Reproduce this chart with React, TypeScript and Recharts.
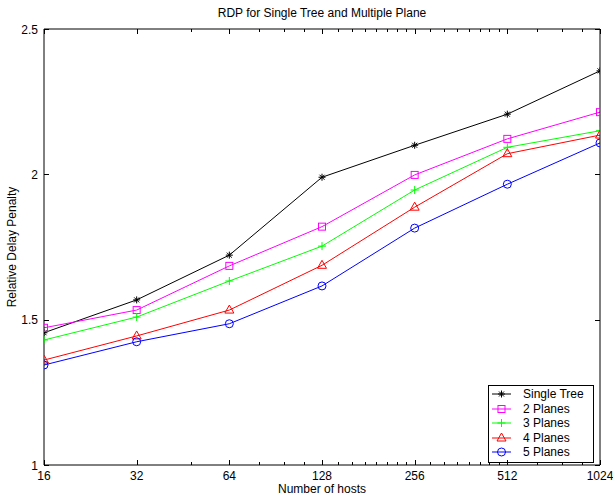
import React from "react";
import { Legend, Line, LineChart, XAxis, YAxis } from "recharts";

// number of hosts (log2 spaced on the x axis)
const hosts = [16, 32, 64, 128, 256, 512, 1024];
const singleTree = [1.455, 1.568, 1.722, 1.99, 2.1, 2.207, 2.356];
const planes2 = [1.472, 1.533, 1.685, 1.82, 1.998, 2.122, 2.214];
const planes3 = [1.43, 1.509, 1.633, 1.753, 1.946, 2.093, 2.15];
const planes4 = [1.361, 1.444, 1.533, 1.687, 1.887, 2.071, 2.135];
const planes5 = [1.344, 1.424, 1.486, 1.616, 1.815, 1.966, 2.108];

const minorTicks = [
  48, 80, 96, 112, 144, 160, 176, 192, 208, 224, 240, 288, 320, 352, 384, 416,
  448, 480, 640, 768, 896,
];
const yTicks = [1, 1.5, 2, 2.5];

const data = hosts.map((h, i) => ({
  hosts: h,
  single: singleTree[i],
  p2: planes2[i],
  p3: planes3[i],
  p4: planes4[i],
  p5: planes5[i],
}));

const FONT = "'Liberation Sans', Arial, Helvetica, sans-serif";

// plot box (matches chart margins + 1px axes)
const BOX = { left: 44, right: 600, top: 29, bottom: 465 };

const series = [
  { key: "single", name: "Single Tree", color: "#000000", marker: "star" },
  { key: "p2", name: "2 Planes", color: "#ff00ff", marker: "square" },
  { key: "p3", name: "3 Planes", color: "#00ff00", marker: "plus" },
  { key: "p4", name: "4 Planes", color: "#ff0000", marker: "triangle" },
  { key: "p5", name: "5 Planes", color: "#0000ff", marker: "circle" },
];

function Marker({ cx, cy, color, shape }) {
  if (cx == null || cy == null) return null;
  const s = { stroke: color, strokeWidth: 1, fill: "none" };
  if (shape === "star") {
    const r = 3.5;
    const d = 2.5;
    return (
      <g {...s}>
        <line x1={cx - r} y1={cy} x2={cx + r} y2={cy} />
        <line x1={cx} y1={cy - r} x2={cx} y2={cy + r} />
        <line x1={cx - d} y1={cy - d} x2={cx + d} y2={cy + d} />
        <line x1={cx - d} y1={cy + d} x2={cx + d} y2={cy - d} />
      </g>
    );
  }
  if (shape === "square") {
    return <rect x={cx - 3.5} y={cy - 3.5} width={7} height={7} {...s} />;
  }
  if (shape === "plus") {
    return (
      <g {...s}>
        <line x1={cx - 4} y1={cy} x2={cx + 4} y2={cy} />
        <line x1={cx} y1={cy - 4} x2={cx} y2={cy + 4} />
      </g>
    );
  }
  if (shape === "triangle") {
    return (
      <polygon
        points={`${cx},${cy - 5} ${cx - 4.5},${cy + 3} ${cx + 4.5},${cy + 3}`}
        {...s}
      />
    );
  }
  return <circle cx={cx} cy={cy} r={4} {...s} />;
}

function XLabel(props) {
  const { x, y, payload } = props;
  const v = payload.value;
  if (!hosts.includes(v)) return <g />;
  return (
    <text x={x} y={y + 15} textAnchor="middle" fontSize={12} fontFamily={FONT} fill="#000" stroke="none">
      {v}
    </text>
  );
}

function YLabel(props) {
  const { x, y, payload } = props;
  return (
    <text x={x - 6} y={y + 4.5} textAnchor="end" fontSize={12} fontFamily={FONT} fill="#000" stroke="none">
      {payload.value}
    </text>
  );
}

function LegendBox() {
  return (
    <div
      style={{
        border: "1px solid #000",
        background: "#fff",
        width: 104,
        height: 75,
        boxSizing: "content-box",
        fontFamily: FONT,
        fontSize: 12,
        paddingTop: 1,
      }}
    >
      {series.map((s) => (
        <div key={s.key} style={{ display: "flex", alignItems: "center", height: 14.5 }}>
          <svg width={34} height={14} style={{ display: "block" }}>
            <line x1={3} y1={7} x2={22} y2={7} stroke={s.color} />
            <Marker cx={12.5} cy={7} color={s.color} shape={s.marker} />
          </svg>
          <span style={{ lineHeight: "14px" }}>{s.name}</span>
        </div>
      ))}
    </div>
  );
}

// inward tick marks around the box (decoration only, same domains as the axes)
function BoxTicks() {
  const tx = (v) =>
    Math.round(BOX.left + ((BOX.right - BOX.left) * Math.log(v / 16)) / Math.log(1024 / 16)) + 0.5;
  const ty = (v) => Math.round(BOX.bottom - ((BOX.bottom - BOX.top) * (v - 1)) / 1.5) + 0.5;
  const allTicks = [...hosts, ...minorTicks];
  return (
    <g stroke="#000" strokeWidth={1} shapeRendering="crispEdges">
      {allTicks.map((v) => {
        const len = hosts.includes(v) ? 5 : 3;
        const x = tx(v);
        return (
          <g key={`x-${v}`}>
            <line x1={x} y1={BOX.bottom} x2={x} y2={BOX.bottom - len} />
            <line x1={x} y1={BOX.top} x2={x} y2={BOX.top + len} />
          </g>
        );
      })}
      {yTicks.map((v) => {
        const y = ty(v);
        return (
          <g key={`y-${v}`}>
            <line x1={BOX.left} y1={y} x2={BOX.left + 5} y2={y} />
            <line x1={BOX.right} y1={y} x2={BOX.right - 5} y2={y} />
          </g>
        );
      })}
    </g>
  );
}

export default function App() {
  const allTicks = [...hosts, ...minorTicks].sort((a, b) => a - b);
  const axisStyle = { stroke: "#000", strokeWidth: 1 };

  return (
    <div style={{ position: "absolute", left: 0, top: 0, width: 613, height: 499, background: "#fff" }}>
      <LineChart
        width={613}
        height={499}
        data={data}
        margin={{ top: 28, right: 12, bottom: 33, left: 43 }}
      >
        <XAxis
          dataKey="hosts"
          type="number"
          scale="log"
          domain={[16, 1024]}
          allowDataOverflow
          ticks={allTicks}
          interval={0}
          tickSize={0}
          tickMargin={0}
          height={1}
          axisLine={axisStyle}
          tickLine={false}
          tick={<XLabel />}
        />
        <XAxis
          xAxisId="top"
          orientation="top"
          dataKey="hosts"
          type="number"
          scale="log"
          domain={[16, 1024]}
          allowDataOverflow
          ticks={allTicks}
          height={1}
          axisLine={axisStyle}
          tickLine={false}
          tick={false}
        />
        <YAxis
          type="number"
          domain={[1, 2.5]}
          allowDataOverflow
          ticks={yTicks}
          interval={0}
          tickSize={0}
          tickMargin={0}
          width={1}
          axisLine={axisStyle}
          tickLine={false}
          tick={<YLabel />}
        />
        <YAxis
          yAxisId="right"
          orientation="right"
          type="number"
          domain={[1, 2.5]}
          allowDataOverflow
          ticks={yTicks}
          width={1}
          axisLine={axisStyle}
          tickLine={false}
          tick={false}
        />
        {series.map((s) => (
          <Line
            key={s.key}
            dataKey={s.key}
            name={s.name}
            type="linear"
            stroke={s.color}
            strokeWidth={1}
            isAnimationActive={false}
            dot={(p) => (
              <Marker key={`${s.key}-${p.index}`} cx={p.cx} cy={p.cy} color={s.color} shape={s.marker} />
            )}
          />
        ))}
        <Legend
          layout="vertical"
          align="center"
          verticalAlign="middle"
          content={() => <LegendBox />}
          wrapperStyle={{ position: "absolute", left: 488, top: 385, width: 106, height: 77 }}
        />
      </LineChart>
      <svg
        width={613}
        height={499}
        style={{ position: "absolute", left: 0, top: 0, pointerEvents: "none" }}
        fontFamily={FONT}
        fontSize={12}
      >
        <BoxTicks />
        <text x={322} y={17} textAnchor="middle" fill="#000">
          RDP for Single Tree and Multiple Plane
        </text>
        <text x={322} y={493} textAnchor="middle" fill="#000">
          Number of hosts
        </text>
        <text x={15.5} y={247} textAnchor="middle" fill="#000" transform="rotate(-90, 15.5, 247)">
          Relative Delay Penalty
        </text>
      </svg>
    </div>
  );
}
